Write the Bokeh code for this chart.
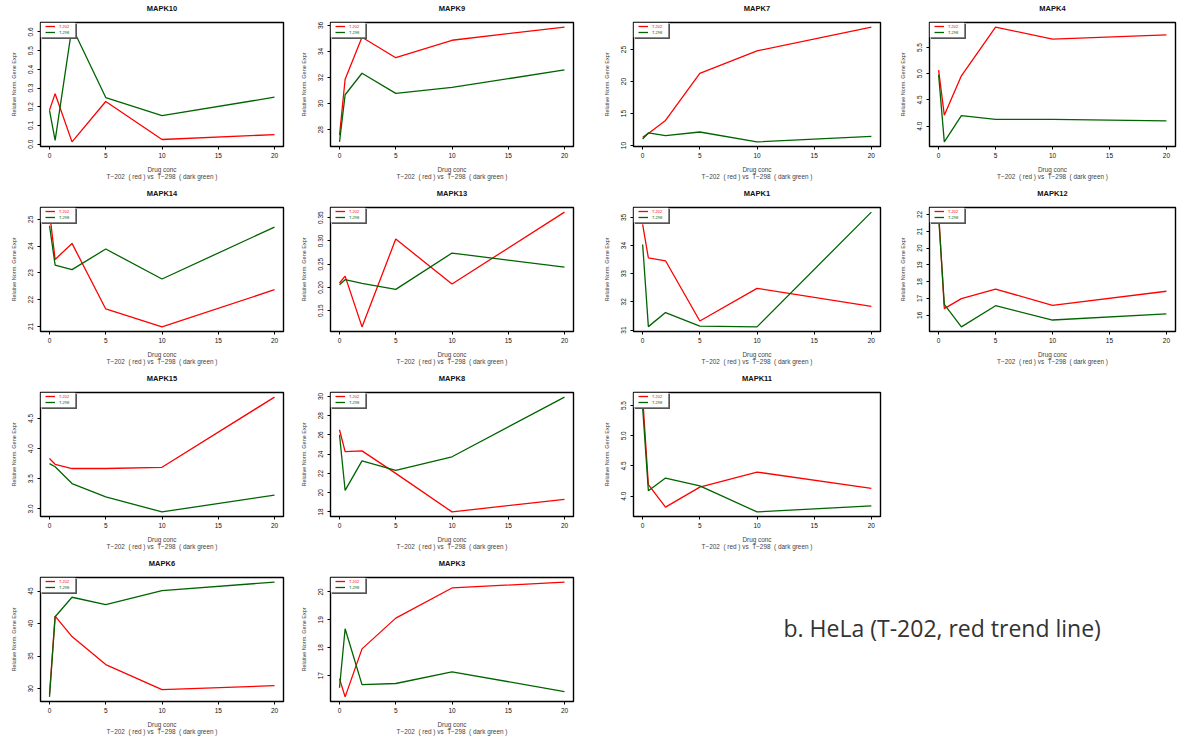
from bokeh.plotting import figure
from bokeh.layouts import column, row
from bokeh.models import (Range1d, FixedTicker, NumeralTickFormatter, Legend,
                          LegendItem, Label, BoxAnnotation, LinearAxis)
from bokeh.embed import file_html
from bokeh.resources import INLINE

# ---------------- data ----------------
conc = [0, 0.5, 2, 5, 10, 20]
x_ticks = [0, 5, 10, 15, 20]
series_names = ["T-202", "T-298"]

mapk10_t202 = [0.182, 0.270, 0.012, 0.228, 0.025, 0.051]
mapk10_t298 = [0.180, 0.020, 0.626, 0.249, 0.153, 0.251]
mapk10_ticks = [0.0, 0.1, 0.2, 0.3, 0.4, 0.5, 0.6]

mapk9_t202 = [27.57, 31.87, 35.09, 33.52, 34.86, 35.87]
mapk9_t298 = [27.06, 30.68, 32.33, 30.78, 31.24, 32.58]
mapk9_ticks = [28, 30, 32, 34, 36]

mapk7_t202 = [11.29, 11.90, 13.93, 21.28, 24.80, 28.52]
mapk7_t298 = [11.03, 11.97, 11.55, 12.12, 10.57, 11.45]
mapk7_ticks = [10, 15, 20, 25]

mapk4_t202 = [5.07, 4.21, 4.96, 5.89, 5.66, 5.74]
mapk4_t298 = [4.98, 3.70, 4.20, 4.13, 4.13, 4.10]
mapk4_ticks = [4.0, 4.5, 5.0, 5.5]

mapk14_t202 = [25.27, 23.50, 24.10, 21.65, 20.98, 22.37]
mapk14_t298 = [24.76, 23.29, 23.12, 23.89, 22.77, 24.71]
mapk14_ticks = [21, 22, 23, 24, 25]

mapk13_t202 = [0.2096, 0.2245, 0.1153, 0.304, 0.2075, 0.362]
mapk13_t298 = [0.206, 0.2167, 0.2089, 0.196, 0.274, 0.2436]
mapk13_ticks = [0.15, 0.20, 0.25, 0.30, 0.35]

mapk1_t202 = [34.75, 33.56, 33.46, 31.32, 32.48, 31.84]
mapk1_t298 = [34.04, 31.12, 31.62, 31.14, 31.11, 35.19]
mapk1_ticks = [31, 32, 33, 34, 35]

mapk12_t202 = [22.14, 16.40, 16.99, 17.56, 16.59, 17.43]
mapk12_t298 = [21.90, 16.65, 15.31, 16.57, 15.72, 16.08]
mapk12_ticks = [16, 17, 18, 19, 20, 21, 22]

mapk15_t202 = [3.835, 3.74, 3.67, 3.67, 3.69, 4.855]
mapk15_t298 = [3.75, 3.70, 3.42, 3.20, 2.95, 3.23]
mapk15_ticks = [3.0, 3.5, 4.0, 4.5]

mapk8_t202 = [26.54, 24.27, 24.34, 22.0, 18.0, 19.3]
mapk8_t298 = [26.02, 20.23, 23.31, 22.32, 23.73, 29.93]
mapk8_ticks = [18, 20, 22, 24, 26, 28, 30]

mapk11_t202 = [5.64, 4.19, 3.82, 4.15, 4.40, 4.13]
mapk11_t298 = [5.47, 4.09, 4.30, 4.17, 3.74, 3.84]
mapk11_ticks = [4.0, 4.5, 5.0, 5.5]

mapk6_t202 = [29.14, 41.15, 38.0, 33.7, 29.85, 30.46]
mapk6_t298 = [28.73, 41.05, 44.04, 42.92, 45.05, 46.37]
mapk6_ticks = [30, 35, 40, 45]

mapk3_t202 = [16.89, 16.24, 17.96, 19.06, 20.14, 20.35]
mapk3_t298 = [16.57, 18.68, 16.68, 16.72, 17.14, 16.43]
mapk3_ticks = [17, 18, 19, 20]

annotation_text = "b. HeLa (T-202, red trend line)"
y_label = "Relative Norm. Gene Expr"
x_label = ("Drug conc\nT\u2212202 \u00a0( red ) vs \u00a0T\u2212298 "
           "\u00a0( dark green )")

# ---------------- styling / layout ----------------
FONT = "Liberation Sans"
RED = "#ff0000"
GREEN = "#006400"
# (width, left border, right border) for the four columns
COLS = [(290, 40, 7), (300, 40, 17), (292, 43, 2), (299, 47, 6)]
ROW_H, TOP, BOTTOM = 185, 22, 39
FRAME_H = ROW_H - TOP - BOTTOM
X0, X1 = -0.8, 20.8
LEG_W, LEG_H = 35, 15   # legend box size in px


def panel(name, y202, y298, ticks, fmt, col):
    w, bl, br = COLS[col]
    fw = w - bl - br
    lo = min(min(y202), min(y298))
    hi = max(max(y202), max(y298))
    pad = 0.04 * (hi - lo)
    y0, y1 = lo - pad, hi + pad
    p = figure(width=w, height=ROW_H, output_backend="svg", toolbar_location=None,
               x_range=Range1d(X0, X1), y_range=Range1d(y0, y1),
               min_border_left=bl, min_border_right=br,
               min_border_top=TOP, min_border_bottom=BOTTOM,
               background_fill_color="white", border_fill_color="white")
    p.outline_line_color = "black"
    p.outline_line_width = 1.4
    p.grid.visible = False

    bottom_ax = p.below[0]
    left_ax = p.left[0]
    for ax in (bottom_ax, left_ax):
        ax.axis_line_color = None
        ax.major_tick_line_color = "black"
        ax.major_tick_out = 3
        ax.major_tick_in = 0
        ax.minor_tick_line_color = None
        ax.major_label_text_font = FONT
        ax.major_label_text_font_size = "6.5px"
        ax.major_label_text_color = "#111111"
        ax.axis_label_text_font = FONT
        ax.axis_label_text_font_style = "normal"
        ax.axis_label_text_color = "#444444"

    bottom_ax.ticker = FixedTicker(ticks=x_ticks)
    bottom_ax.formatter = NumeralTickFormatter(format="0")
    bottom_ax.major_label_standoff = 3
    bottom_ax.axis_label = x_label
    bottom_ax.axis_label_text_font_size = "6.4px"
    bottom_ax.axis_label_text_line_height = 1.1
    bottom_ax.axis_label_standoff = 5

    left_ax.ticker = FixedTicker(ticks=ticks)
    left_ax.formatter = NumeralTickFormatter(format=fmt)
    left_ax.major_label_orientation = "vertical"
    left_ax.major_label_standoff = 4
    left_ax.axis_label = y_label
    left_ax.axis_label_text_font_size = "5.5px"
    left_ax.axis_label_standoff = 9

    # panel title: label of a tick-less axis above the frame
    top_axis = LinearAxis(ticker=FixedTicker(ticks=[]), axis_label=name,
                          axis_line_color=None, major_tick_line_color=None,
                          minor_tick_line_color=None, major_tick_out=0,
                          major_tick_in=0, minor_tick_out=0, minor_tick_in=0,
                          major_label_standoff=0, axis_label_standoff=10,
                          axis_label_text_font=FONT,
                          axis_label_text_font_size="7.5px",
                          axis_label_text_font_style="bold",
                          axis_label_text_color="#111111")
    p.add_layout(top_axis, "above")

    r1 = p.line(conc, y202, line_color=RED, line_width=1.3)
    r2 = p.line(conc, y298, line_color=GREEN, line_width=1.3)

    # legend box (with a small drop shadow), sized in pixels
    dx = (X1 - X0) / fw
    dy = (y1 - y0) / FRAME_H
    p.add_layout(BoxAnnotation(left=X0 + 1.5 * dx, right=X0 + (LEG_W + 1.5) * dx,
                               top=y1 - 1.5 * dy, bottom=y1 - (LEG_H + 1.5) * dy,
                               fill_color="#555555", fill_alpha=1.0,
                               line_color=None))
    p.add_layout(BoxAnnotation(left=X0, right=X0 + LEG_W * dx,
                               top=y1, bottom=y1 - LEG_H * dy,
                               fill_color="white", fill_alpha=1.0,
                               line_color="#222222", line_width=0.8))

    common = dict(margin=0, padding=0, spacing=0,
                  glyph_width=10, glyph_height=6, label_height=6, label_width=5,
                  label_standoff=4, label_text_font=FONT,
                  label_text_font_size="4px", border_line_color=None,
                  background_fill_alpha=0.0)
    leg_a = Legend(items=[LegendItem(label=series_names[0], renderers=[r1])],
                   label_text_color=RED, location=(5, FRAME_H - 7), **common)
    leg_b = Legend(items=[LegendItem(label=series_names[1], renderers=[r2])],
                   label_text_color=GREEN, location=(5, FRAME_H - 13), **common)
    p.add_layout(leg_a)
    p.add_layout(leg_b)
    return p


f = [
    panel("MAPK10", mapk10_t202, mapk10_t298, mapk10_ticks, "0.0", 0),
    panel("MAPK9", mapk9_t202, mapk9_t298, mapk9_ticks, "0", 1),
    panel("MAPK7", mapk7_t202, mapk7_t298, mapk7_ticks, "0", 2),
    panel("MAPK4", mapk4_t202, mapk4_t298, mapk4_ticks, "0.0", 3),
    panel("MAPK14", mapk14_t202, mapk14_t298, mapk14_ticks, "0", 0),
    panel("MAPK13", mapk13_t202, mapk13_t298, mapk13_ticks, "0.00", 1),
    panel("MAPK1", mapk1_t202, mapk1_t298, mapk1_ticks, "0", 2),
    panel("MAPK12", mapk12_t202, mapk12_t298, mapk12_ticks, "0", 3),
    panel("MAPK15", mapk15_t202, mapk15_t298, mapk15_ticks, "0.0", 0),
    panel("MAPK8", mapk8_t202, mapk8_t298, mapk8_ticks, "0", 1),
    panel("MAPK11", mapk11_t202, mapk11_t298, mapk11_ticks, "0.0", 2),
    panel("MAPK6", mapk6_t202, mapk6_t298, mapk6_ticks, "0", 0),
    panel("MAPK3", mapk3_t202, mapk3_t298, mapk3_ticks, "0", 1),
]

# annotation area (columns 3-4 of the last row)
note = figure(width=COLS[2][0] + COLS[3][0], height=ROW_H, output_backend="svg",
              toolbar_location=None, x_axis_type=None, y_axis_type=None,
              x_range=Range1d(0, 1), y_range=Range1d(0, 1),
              min_border=0, min_border_left=0, min_border_right=0,
              min_border_top=0, min_border_bottom=0)
note.outline_line_color = None
note.grid.visible = False
note.add_layout(Label(x=193, y=74, x_units="screen", y_units="screen",
                      text=annotation_text, text_font="Open Sans",
                      text_font_size="23px", text_color="#333333",
                      text_baseline="middle", text_align="left"))

layout = column(
    row(f[0], f[1], f[2], f[3]),
    row(f[4], f[5], f[6], f[7]),
    row(f[8], f[9], f[10]),
    row(f[11], f[12], note),
)

open("out.html", "w").write(file_html(layout, INLINE))
